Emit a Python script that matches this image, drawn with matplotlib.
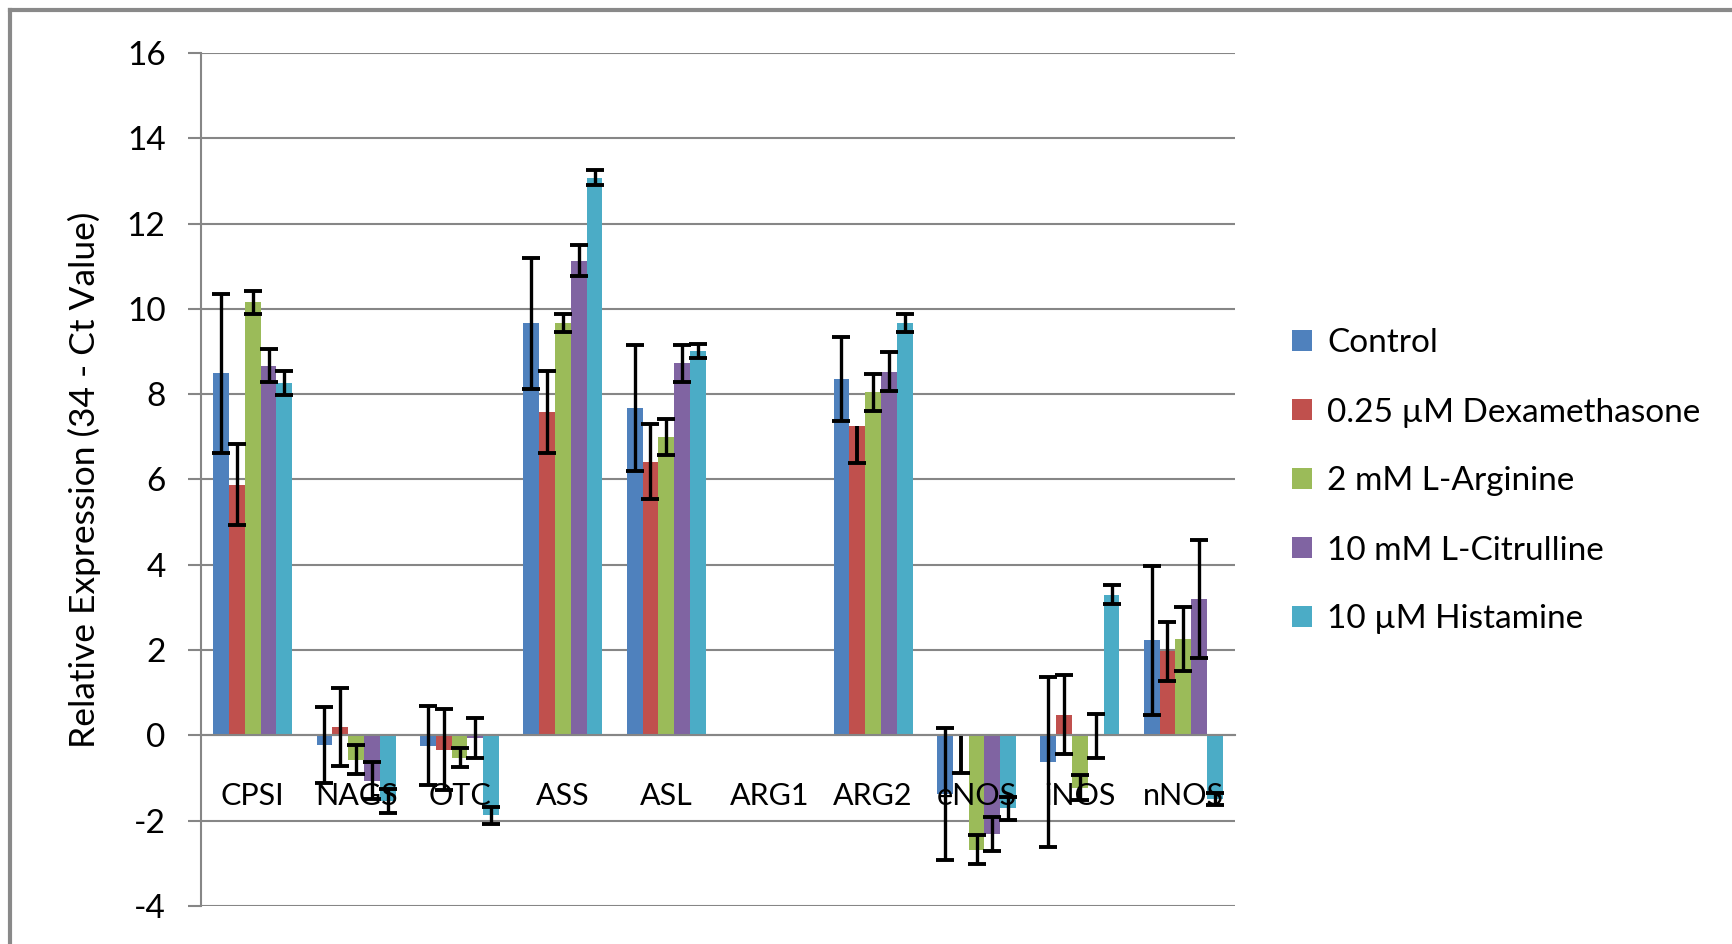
import numpy as np
import matplotlib
matplotlib.use("Agg")
import matplotlib.pyplot as plt
from matplotlib.lines import Line2D

plt.rcParams['font.family'] = ['Lato', 'DejaVu Sans']
plt.rcParams['axes.unicode_minus'] = False

nan = np.nan
genes = ["CPSI", "NAGS", "OTC", "ASS", "ASL", "ARG1", "ARG2", "eNOS", "iNOS", "nNOS"]
labels = ["Control", "0.25 \u00b5M Dexamethasone", "2 mM L-Arginine",
          "10 mM L-Citrulline", "10 \u00b5M Histamine"]
colors = ["#4F81BD", "#C0504D", "#9BBB59", "#8064A2", "#4BACC6"]

control = [8.49, -0.23, -0.24, 9.66, 7.68, nan, 8.35, -1.37, -0.62, 2.23]
control_err = [1.87, 0.89, 0.93, 1.54, 1.47, nan, 0.98, 1.55, 2.0, 1.75]
dex = [5.88, 0.19, -0.34, 7.59, 6.42, nan, 7.26, -0.02, 0.49, 1.97]
dex_err = [0.95, 0.91, 0.95, 0.96, 0.88, nan, 0.87, 0.85, 0.93, 0.7]
arg = [10.16, -0.57, -0.52, 9.66, 7.0, nan, 8.04, -2.68, -1.23, 2.27]
arg_err = [0.27, 0.34, 0.23, 0.21, 0.43, nan, 0.43, 0.34, 0.29, 0.75]
cit = [8.67, -1.06, -0.07, 11.13, 8.72, nan, 8.53, -2.31, -0.01, 3.2]
cit_err = [0.39, 0.43, 0.47, 0.37, 0.43, nan, 0.45, 0.40, 0.51, 1.38]
his = [8.26, -1.54, -1.87, 13.08, 9.01, nan, 9.66, -1.71, 3.3, -1.5]
his_err = [0.28, 0.28, 0.2, 0.18, 0.16, nan, 0.21, 0.27, 0.22, 0.14]

# error bars drawn only downward (series index, gene index)
lower_only = [(1, 6), (1, 7)]

series = [control, dex, arg, cit, his]
errors = [control_err, dex_err, arg_err, cit_err, his_err]

fig = plt.figure(figsize=(17.32, 9.44), dpi=100)
ax = fig.add_axes([201 / 1732, 1 - 906 / 944, 1034 / 1732, 853 / 944])

x = np.arange(len(genes))
w = 0.153
grey = "#868686"
for j, (vals, errs) in enumerate(zip(series, errors)):
    pos = x + (j - 2) * w
    vals = np.array(vals)
    errs = np.array(errs)
    ax.bar(pos, vals, w, color=colors[j], label=labels[j], zorder=2)
    full = np.ones(len(genes), bool)
    for s, g in lower_only:
        if s == j:
            full[g] = False
    ax.errorbar(pos[full], vals[full], yerr=errs[full], fmt='none', ecolor='black',
                elinewidth=2.4, capsize=6.2, capthick=2.8, zorder=3)
    if not full.all():
        p, v, e = pos[~full], vals[~full], errs[~full]
        ax.errorbar(p, v, yerr=[e, np.zeros_like(e)], fmt='none', ecolor='black',
                    elinewidth=2.8, capsize=0, zorder=3)
        ax.plot(p, v - e, ls='none', marker='_', ms=12.4, mew=2.8, color='black', zorder=3)

ax.set_xlim(-0.5, len(genes) - 0.5)
ax.set_ylim(-4, 16)
ax.set_yticks(np.arange(-4, 17, 2))
ax.set_xticks([])
ax.yaxis.grid(True, color=grey, lw=1.5)
ax.set_axisbelow(True)
for s in ['top', 'right']:
    ax.spines[s].set_visible(False)
ax.spines['left'].set_color(grey)
ax.spines['left'].set_linewidth(1.5)
ax.spines['bottom'].set_position(('data', 0))
ax.spines['bottom'].set_color(grey)
ax.spines['bottom'].set_linewidth(1.5)
ax.tick_params(axis='y', length=9.5, width=1.5, color=grey, pad=16, labelsize=24)

for i, g in enumerate(genes):
    ax.text(i, -1.42, g, ha='center', va='center', fontsize=22, zorder=5)

fig.text(84 / 1732, 1 - 480 / 944, "Relative Expression (34 - Ct Value)",
         rotation=90, ha='center', va='center', fontsize=25.5)

ax.legend(loc='center left', bbox_to_anchor=(1292 / 1732, 1 - 481.5 / 944),
          bbox_transform=fig.transFigure, frameon=False, fontsize=24,
          handlelength=0.6, handleheight=0.6, handletextpad=0.45,
          labelspacing=1.17, borderpad=0, borderaxespad=0)

# outer chart border (cut off on right and bottom)
fig.add_artist(Line2D([10 / 1732, 10 / 1732], [0, 1 - 10 / 944], color="#898989", lw=3))
fig.add_artist(Line2D([10 / 1732, 1], [1 - 10 / 944, 1 - 10 / 944], color="#898989", lw=3))

fig.savefig("out.png", dpi=100)
